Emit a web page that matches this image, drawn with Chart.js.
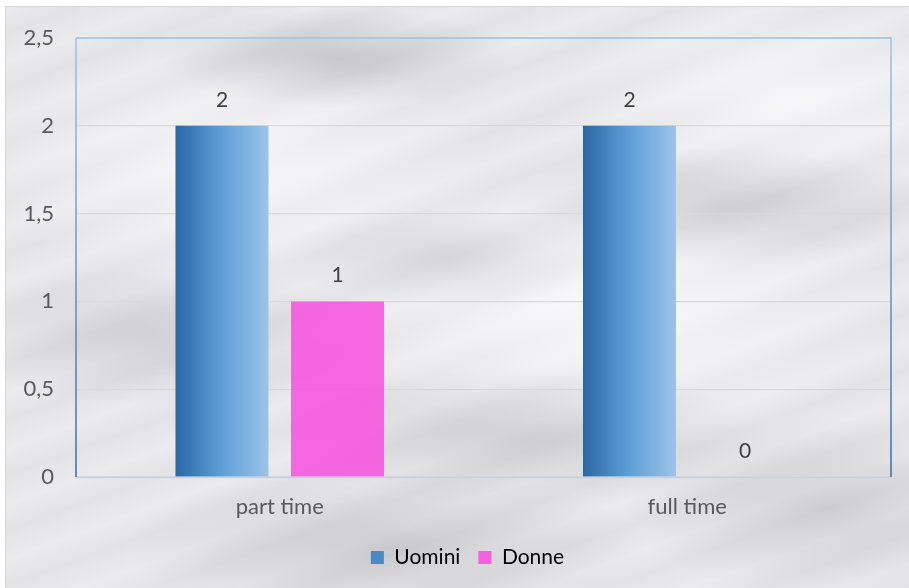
<!DOCTYPE html>
<html>
<head>
<meta charset="utf-8">
<script src="https://cdn.jsdelivr.net/npm/chart.js@4/dist/chart.umd.min.js"></script>
<style>
  html, body { margin: 0; padding: 0; background: #ffffff; overflow: hidden; }
  #frame {
    position: absolute; left: 5px; top: 6px; width: 903px; height: 581px;
    border-top: 1px solid #d6d6d6; border-left: 1px solid #d6d6d6;
    background-color: #ebebed;
    background-image:
      radial-gradient(ellipse 180px 50px at 330px 50px, rgba(140,140,145,0.35), transparent),
      radial-gradient(ellipse 220px 60px at 720px 200px, rgba(150,150,155,0.3), transparent),
      radial-gradient(ellipse 200px 70px at 150px 330px, rgba(155,155,160,0.3), transparent),
      radial-gradient(ellipse 240px 70px at 520px 430px, rgba(150,150,155,0.3), transparent),
      radial-gradient(ellipse 260px 80px at 380px 540px, rgba(140,140,145,0.3), transparent),
      radial-gradient(ellipse 200px 90px at 820px 500px, rgba(155,155,160,0.3), transparent),
      radial-gradient(ellipse 160px 50px at 440px 250px, rgba(150,150,155,0.25), transparent),
      radial-gradient(ellipse 300px 140px at 600px 300px, rgba(252,252,253,0.8), transparent),
      radial-gradient(ellipse 260px 120px at 230px 160px, rgba(252,252,253,0.7), transparent),
      radial-gradient(ellipse 220px 100px at 780px 90px, rgba(252,252,253,0.7), transparent),
      repeating-linear-gradient(160deg, rgba(255,255,255,0) 0px, rgba(185,185,190,0.16) 24px, rgba(255,255,255,0) 52px);
  }
  canvas { display: block; }
</style>
</head>
<body>
<div id="frame"><canvas id="chart" width="903" height="581"></canvas></div>
<script>
const categories = ["part time", "full time"];
const uomini = [2, 2];
const donne = [1, 0];
const seriesNames = ["Uomini", "Donne"];
const yTicks = [0, 0.5, 1, 1.5, 2, 2.5];

const FONT = "Lato, 'Open Sans', sans-serif";

// blue horizontal gradient on each Uomini bar, like the Excel fill
const barGradient = {
  id: "barGradient",
  beforeDatasetsDraw(chart) {
    const ctx = chart.ctx;
    chart.getDatasetMeta(0).data.forEach(bar => {
      const left = bar.x - bar.width / 2;
      const g = ctx.createLinearGradient(left, 0, left + bar.width, 0);
      g.addColorStop(0, "#2a67a4");
      g.addColorStop(0.5, "#5f9fd8");
      g.addColorStop(1, "#9cc4e9");
      bar.options.backgroundColor = g;
    });
  }
};

// nudge the legend a little to the right, as in the original
const legendShift = {
  id: "legendShift",
  afterLayout(chart) {
    chart.legend.left += 19;
    chart.legend.right += 19;
  }
};

// plot frame: light blue top, vertical sides fading to darker blue
const plotFrame = {
  id: "plotFrame",
  afterDraw(chart) {
    const { ctx, chartArea: a } = chart;
    ctx.save();
    ctx.lineWidth = 1.5;
    ctx.strokeStyle = "#c7d2de";
    ctx.beginPath();
    ctx.moveTo(a.left, a.bottom + 0.5);
    ctx.lineTo(a.right, a.bottom + 0.5);
    ctx.stroke();
    ctx.strokeStyle = "#9dc3e6";
    ctx.beginPath();
    ctx.moveTo(a.left, a.top);
    ctx.lineTo(a.right, a.top);
    ctx.stroke();
    const v = ctx.createLinearGradient(0, a.top, 0, a.bottom);
    v.addColorStop(0, "#9dc3e6");
    v.addColorStop(1, "#2e6fb3");
    ctx.strokeStyle = v;
    ctx.beginPath();
    ctx.moveTo(a.left, a.top);
    ctx.lineTo(a.left, a.bottom);
    ctx.moveTo(a.right, a.top);
    ctx.lineTo(a.right, a.bottom);
    ctx.stroke();
    ctx.restore();
  }
};

// value labels above the bars
const valueLabels = {
  id: "valueLabels",
  afterDatasetsDraw(chart) {
    const ctx = chart.ctx;
    ctx.save();
    ctx.font = "21px " + FONT;
    ctx.fillStyle = "#404040";
    ctx.textAlign = "center";
    ctx.textBaseline = "middle";
    chart.data.datasets.forEach((ds, i) => {
      chart.getDatasetMeta(i).data.forEach((bar, j) => {
        ctx.fillText(String(ds.data[j]), bar.x, bar.y - 26);
      });
    });
    ctx.restore();
  }
};

new Chart(document.getElementById("chart"), {
  type: "bar",
  data: {
    labels: categories,
    datasets: [
      {
        label: seriesNames[0],
        data: uomini,
        backgroundColor: () => "#5b9bd5",
        categoryPercentage: 0.567,
        barPercentage: 0.805
      },
      {
        label: seriesNames[1],
        data: donne,
        backgroundColor: "rgba(247, 80, 222, 0.85)",
        categoryPercentage: 0.567,
        barPercentage: 0.805
      }
    ]
  },
  options: {
    responsive: false,
    animation: false,
    layout: { padding: { top: 31, right: 18, left: 0, bottom: 10 } },
    plugins: {
      tooltip: { enabled: false },
      legend: {
        position: "bottom",
        labels: {
          color: "#595959",
          font: { family: FONT, size: 21 },
          boxWidth: 13,
          boxHeight: 13,
          padding: 18,
          generateLabels(chart) {
            return seriesNames.map((name, i) => ({
              text: name,
              fillStyle: i === 0 ? "#4a89c8" : "#f55fe0",
              strokeStyle: "rgba(0,0,0,0)",
              lineWidth: 0,
              datasetIndex: i
            }));
          }
        }
      }
    },
    scales: {
      x: {
        grid: { display: false },
        border: { display: false },
        ticks: { color: "#595959", font: { family: FONT, size: 22 }, padding: 9 },
        afterFit(scale) { scale.height = 52; }
      },
      y: {
        min: 0,
        max: 2.5,
        afterBuildTicks(scale) { scale.ticks = yTicks.map(v => ({ value: v })); },
        afterFit(scale) { scale.width = 70; },
        grid: { color: "#d9d9d9", lineWidth: 1.2, drawTicks: false },
        border: { display: false },
        ticks: {
          color: "#595959",
          font: { family: FONT, size: 22, lineHeight: 0.8 },
          padding: 22,
          callback: v => String(v).replace(".", ",")
        }
      }
    }
  },
  plugins: [barGradient, legendShift, valueLabels, plotFrame]
});
</script>
</body>
</html>
